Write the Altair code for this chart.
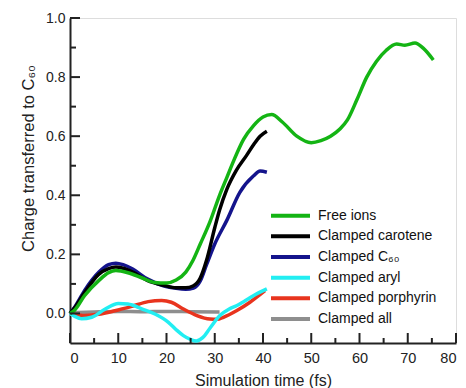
import altair as alt
import pandas as pd

# ---- data ----
series_names = ["Free ions", "Clamped carotene", "Clamped C₆₀",
                "Clamped aryl", "Clamped porphyrin", "Clamped all"]
series_colors = ["#14b414", "#000000", "#14148c", "#22eef2", "#e8341e", "#8e8e8e"]

free_x = [0, 1, 3, 6, 8, 9.5, 12, 15, 17.5, 20, 22, 24, 25.5, 27, 29, 31, 32.5,
          34, 36, 38, 40, 41.8, 44, 47, 50, 52, 54, 56, 57.5, 59.5, 61.5, 63.5,
          65.5, 67.7, 69.4, 71.5, 73.2, 75.3]
free_y = [0, 0.012, 0.06, 0.112, 0.138, 0.145, 0.138, 0.12, 0.105, 0.103, 0.113,
          0.14, 0.18, 0.235, 0.31, 0.40, 0.46, 0.52, 0.59, 0.635, 0.665, 0.673,
          0.648, 0.60, 0.578, 0.585, 0.60, 0.625, 0.655, 0.725, 0.80, 0.853,
          0.89, 0.912, 0.908, 0.915, 0.898, 0.858]

carotene_x = [0, 1, 3, 6, 8, 9.5, 11, 13, 16, 19.5, 22, 24, 25.5, 27, 28.3, 30,
              31, 32.5, 34.5, 36.6, 38, 39.4, 40.8]
carotene_y = [0, 0.02, 0.07, 0.133, 0.152, 0.157, 0.153, 0.14, 0.112, 0.095,
              0.087, 0.087, 0.093, 0.12, 0.18, 0.29, 0.35, 0.42, 0.485, 0.535,
              0.57, 0.60, 0.617]

c60_x = [0, 1, 3, 6, 8, 9.5, 11, 13, 16, 19.5, 22, 24, 25.6, 27, 28.3, 30, 32.5,
         35.2, 38, 39.4, 40.8]
c60_y = [0, 0.022, 0.077, 0.14, 0.165, 0.17, 0.165, 0.15, 0.117, 0.093, 0.085,
         0.082, 0.086, 0.11, 0.165, 0.235, 0.315, 0.41, 0.465, 0.482, 0.478]

aryl_x = [0, 1, 2.4, 4.5, 7.3, 10, 12, 15, 17.6, 20.4, 22, 23.5, 25, 26.2, 27.5,
          29, 31, 33, 34.5, 36, 38, 40.8]
aryl_y = [0, -0.01, -0.018, -0.013, 0.015, 0.034, 0.032, 0.015, -0.002, -0.03,
          -0.055, -0.075, -0.088, -0.093, -0.082, -0.05, -0.008, 0.015, 0.026,
          0.04, 0.06, 0.083]

porph_x = [0, 1.5, 3.1, 5.9, 9.3, 12.8, 16.2, 19, 21, 23.5, 26.3, 29, 30.5, 31.8,
           34.5, 37.3, 40.4]
porph_y = [0, -0.004, -0.007, -0.003, 0.009, 0.024, 0.04, 0.044, 0.038, 0.015,
           -0.007, -0.019, -0.02, -0.013, 0.009, 0.038, 0.077]

all_x = [0, 5, 10, 15, 20, 25, 31]
all_y = [0.002, 0.005, 0.007, 0.006, 0.007, 0.006, 0.005]

x_major = [0, 10, 20, 30, 40, 50, 60, 70, 80]
x_minor = [5, 15, 25, 35, 45, 55, 65, 75]
y_major = [0.0, 0.2, 0.4, 0.6, 0.8, 1.0]
y_minor = [0.1, 0.3, 0.5, 0.7, 0.9]

# ---- build table ----
rows = []
for name, xs, ys in [
    ("Free ions", free_x, free_y),
    ("Clamped carotene", carotene_x, carotene_y),
    ("Clamped C₆₀", c60_x, c60_y),
    ("Clamped aryl", aryl_x, aryl_y),
    ("Clamped porphyrin", porph_x, porph_y),
    ("Clamped all", all_x, all_y),
]:
    for xv, yv in zip(xs, ys):
        rows.append({"series": name, "t": xv, "q": yv})
df = pd.DataFrame(rows)

W, H = 386, 325
FONT = "Liberation Sans"
AX = "#222222"

xscale = alt.Scale(domain=[0, 80], nice=False, zero=False)
yscale = alt.Scale(domain=[-0.1, 1.0], nice=False, zero=False)
cscale = alt.Scale(domain=series_names, range=series_colors)

xaxis = alt.Axis(
    values=x_major, title="Simulation time (fs)", ticks=False, grid=False,
    domainColor=AX, domainWidth=2, labelFont=FONT, labelFontSize=14.5,
    labelColor=AX, labelPadding=8, titleFont=FONT, titleFontSize=16,
    titleFontWeight="normal", titleColor=AX, titleY=37, titleBaseline="middle")
yaxis = alt.Axis(
    values=y_major, format=".1f", title="Charge transferred to C₆₀",
    ticks=False, grid=False, domainColor=AX, domainWidth=2,
    labelFont=FONT, labelFontSize=14, labelColor=AX, labelPadding=5,
    titleFont=FONT, titleFontSize=16.5, titleFontWeight="normal",
    titleColor=AX, titleX=-42, titleY=140, titleBaseline="middle",
    titleAngle=270)

draw_order = ["Clamped all", "Clamped porphyrin", "Clamped aryl",
              "Clamped C₆₀", "Clamped carotene", "Free ions"]

layers = []
for name in draw_order:
    sub = df[df["series"] == name]
    layers.append(
        alt.Chart(sub).mark_line(strokeWidth=3.5, interpolate="monotone").encode(
            x=alt.X("t:Q", scale=xscale, axis=xaxis),
            y=alt.Y("q:Q", scale=yscale, axis=yaxis),
            color=alt.Color("series:N", scale=cscale, legend=None),
        )
    )

xmaj = pd.DataFrame({"t": x_major})
xmin = pd.DataFrame({"t": x_minor})
ymaj = pd.DataFrame({"q": y_major})
ymin = pd.DataFrame({"q": y_minor})

tick_style = dict(color=AX, strokeWidth=2)
ticks = [
    alt.Chart(xmaj).mark_rule(**tick_style).encode(
        x=alt.X("t:Q", scale=xscale, axis=xaxis), y=alt.value(H), y2=alt.value(H - 10)),
    alt.Chart(xmin).mark_rule(**tick_style).encode(
        x=alt.X("t:Q", scale=xscale, axis=xaxis), y=alt.value(H), y2=alt.value(H - 5)),
    alt.Chart(ymaj).mark_rule(**tick_style).encode(
        y=alt.Y("q:Q", scale=yscale, axis=yaxis), x=alt.value(0), x2=alt.value(10)),
    alt.Chart(ymin).mark_rule(**tick_style).encode(
        y=alt.Y("q:Q", scale=yscale, axis=yaxis), x=alt.value(0), x2=alt.value(6)),
]

main = alt.layer(*layers, *ticks)

# ---- legend (drawn from the series list) ----
legdf = pd.DataFrame({"series": series_names})
legy = alt.Y("series:N", sort=series_names, axis=None,
             scale=alt.Scale(type="point", range=[197.7, 301], padding=0))
leg_rule = alt.Chart(legdf).mark_rule(strokeWidth=4).encode(
    y=legy, x=alt.value(201), x2=alt.value(240),
    color=alt.Color("series:N", scale=cscale, legend=None))
leg_text = alt.Chart(legdf).mark_text(
    align="left", baseline="middle", font=FONT, fontSize=14, color="#111111"
).encode(y=legy, x=alt.value(248), text="series:N")
leg = alt.layer(leg_rule, leg_text)

chart = alt.layer(main, leg).resolve_scale(y="independent").properties(
    width=W, height=H,
    autosize=alt.AutoSizeParams(type="none"),
    padding={"left": 70, "top": 18, "right": 10, "bottom": 45},
).configure_view(stroke=None).configure(background="white")

chart.save("out.html", embed_options={"renderer": "svg", "actions": False})
